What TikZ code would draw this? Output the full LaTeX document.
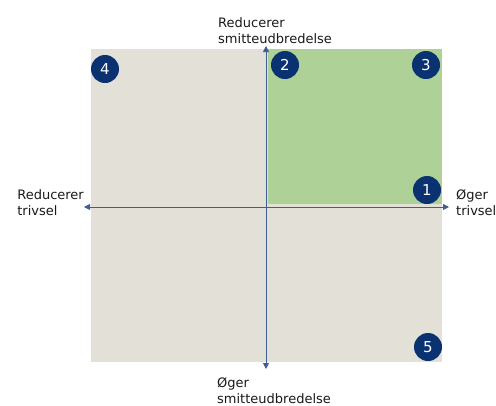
\documentclass[tikz,border=0pt]{standalone}
\usepackage{fontspec}
\setmainfont{DejaVu Sans}
\usetikzlibrary{arrows.meta,positioning}
\definecolor{quadgray}{HTML}{E3E0D8}
\definecolor{quadgreen}{HTML}{ADD196}
\definecolor{badgeblue}{HTML}{0B3270}
\definecolor{axisblue}{HTML}{3D5E96}
\tikzset{
  badge/.style={circle, fill=badgeblue, text=white, inner sep=0pt, minimum size=28pt, font=\fontsize{15}{15}\selectfont},
  axislabel/.style={align=left, inner sep=0pt, text=black!90, font=\fontsize{13}{16}\selectfont},
  axisline/.style={axisblue, line width=0.9pt, -{Triangle[length=6pt,width=6pt]}}
}
\begin{document}
\begin{tikzpicture}[x=1pt,y=-1pt]
  \useasboundingbox (0,0) rectangle (496,405);
  % quadrants
  \fill[quadgray] (91,49) rectangle (442,362);
  \fill[quadgreen] (268,49) rectangle (442,204);
  % axes
  \coordinate (west) at (84,207);
  \coordinate (east) at (449,207);
  \coordinate (north) at (266,46);
  \coordinate (south) at (266,369);
  \draw[axisline] (266,207) -- (west);
  \draw[axisline] (266,207) -- (east);
  \draw[axisline] (266,207) -- (north);
  \draw[axisline] (266,207) -- (south);
  % axis labels
  \node[axislabel, anchor=south west] (top) at (218,44) {Reducerer\\smitteudbredelse};
  \node[axislabel, anchor=north west] (bottom) at (217,377) {Øger\\smitteudbredelse};
  \node[axislabel, anchor=east] (left) at (84,203) {Reducerer\\trivsel};
  \node[axislabel, anchor=west] (right) at (456,203) {Øger\\trivsel};
  % numbered badges
  \node[badge] (b1) at (427,190) {1};
  \node[badge] (b2) at (285,65) {2};
  \node[badge] (b3) at (426,65) {3};
  \node[badge] (b4) at (105,69) {4};
  \node[badge] (b5) at (428,347) {5};
\end{tikzpicture}
\end{document}
